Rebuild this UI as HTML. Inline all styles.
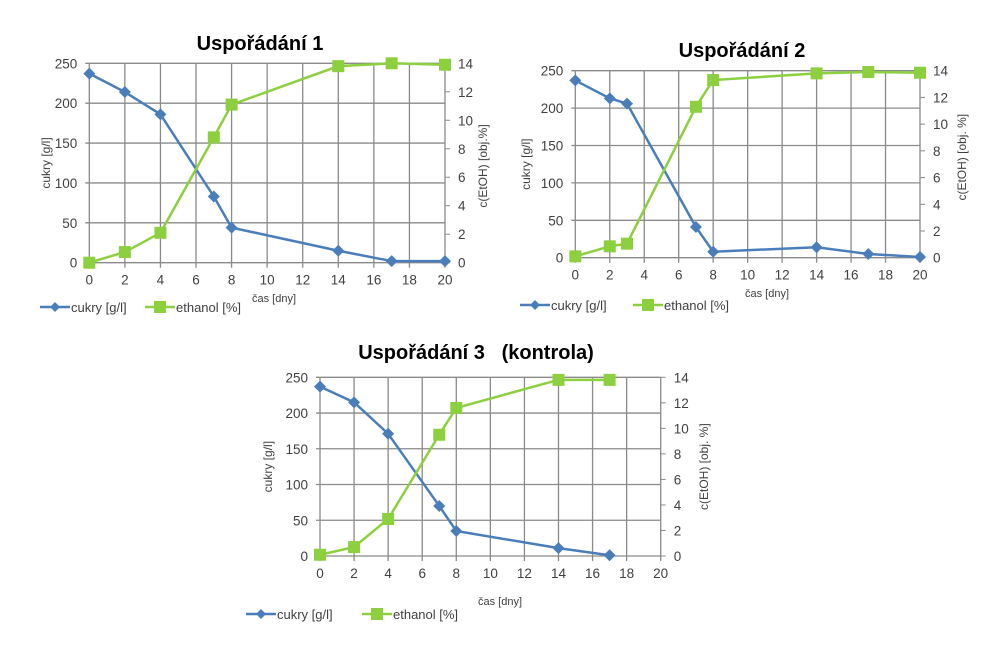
<!DOCTYPE html>
<html><head><meta charset="utf-8"><style>
body{margin:0;background:#fff;}
svg text{font-family:"Liberation Sans",sans-serif;fill:#404040;}
</style></head><body>
<svg id="s" width="997" height="660" viewBox="0 0 997 660" xmlns="http://www.w3.org/2000/svg"></svg>
<script>
const s=document.getElementById('s');let h='';
function chart(c){
 const X=v=>c.x0+(c.x1-c.x0)*v/20, Y=v=>c.y0+(c.y1-c.y0)*v/250, Y2=v=>c.y0+(c.y1-c.y0)*v/14;
 for(let i=0;i<=5;i++){const y=Y(i*50);h+=`<line x1="${c.x0-4}" x2="${c.x1}" y1="${y}" y2="${y}" stroke="#8a8a8a" stroke-width="1.3"/>`;
  h+=`<text x="${c.x0-12}" y="${y+5}" font-size="13.5" text-anchor="end">${i*50}</text>`;}
 for(let i=0;i<=10;i++){const x=X(i*2);h+=`<line x1="${x}" x2="${x}" y1="${c.y1}" y2="${c.y0+5}" stroke="#8a8a8a" stroke-width="1.3"/>`;
  h+=`<text x="${x}" y="${c.y0+22}" font-size="13.5" text-anchor="middle">${i*2}</text>`;}
 for(let i=0;i<=7;i++){const y=Y2(i*2);h+=`<line x1="${c.x1}" x2="${c.x1+5}" y1="${y}" y2="${y}" stroke="#8a8a8a"/>`;
  h+=`<text x="${c.x1+13}" y="${y+5}" font-size="13.5">${i*2}</text>`;}
 h+=`<text x="${c.tx}" y="${c.ty}" font-size="20" font-weight="bold" style="fill:#000" text-anchor="middle">${c.t}</text>`;
 h+=`<text transform="translate(${c.lx},${(c.y0+c.y1)/2}) rotate(-90)" font-size="12" text-anchor="middle">cukry [g/l]</text>`;
 h+=`<text transform="translate(${c.rx},${(c.y0+c.y1)/2+c.ro}) rotate(-90)" font-size="12" text-anchor="middle">${c.rt}</text>`;
 h+=`<text x="${c.cx}" y="${c.cy}" font-size="11" text-anchor="middle">čas [dny]</text>`;
 h+=`<polyline fill="none" stroke="#4a7ebb" stroke-width="2.5" points="${c.a.map(p=>X(p[0])+','+Y(p[1])).join(' ')}"/>`;
 c.a.forEach(p=>{const x=X(p[0]),y=Y(p[1]);h+=`<polygon points="${x},${y-6} ${x+6},${y} ${x},${y+6} ${x-6},${y}" fill="#4a7ebb"/>`;});
 h+=`<polyline fill="none" stroke="#8ccf3f" stroke-width="2.5" points="${c.b.map(p=>X(p[0])+','+Y2(p[1])).join(' ')}"/>`;
 c.b.forEach(p=>{const x=X(p[0]),y=Y2(p[1]);h+=`<rect x="${x-6}" y="${y-6}" width="12" height="12" fill="#8ccf3f"/>`;});
 const ly=c.ly;
 h+=`<line x1="${c.l1}" x2="${c.l1+30}" y1="${ly}" y2="${ly}" stroke="#4a7ebb" stroke-width="2.5"/><polygon points="${c.l1+15},${ly-5} ${c.l1+20},${ly} ${c.l1+15},${ly+5} ${c.l1+10},${ly}" fill="#4a7ebb"/>`;
 h+=`<text x="${c.l1+31}" y="${ly+5}" font-size="13">cukry [g/l]</text>`;
 h+=`<line x1="${c.l2}" x2="${c.l2+30}" y1="${ly}" y2="${ly}" stroke="#8ccf3f" stroke-width="2.5"/><rect x="${c.l2+9}" y="${ly-6}" width="12" height="12" fill="#8ccf3f"/>`;
 h+=`<text x="${c.l2+31}" y="${ly+5}" font-size="13">ethanol [%]</text>`;
}
chart({x0:89.3,x1:445,y0:262.7,y1:63.3,t:"Uspořádání 1",tx:260,ty:50,lx:50,rx:487,ro:3,rt:"c(EtOH) [obj.%]",cx:274,cy:302,ly:307,l1:40,l2:145,
 a:[[0,237],[2,214],[4,186],[7,83],[8,44],[14,15],[17,2],[20,2]],
 b:[[0,0],[2,0.75],[4,2.1],[7,8.8],[8,11.1],[14,13.8],[17,14],[20,13.9]]});
chart({x0:575.3,x1:920,y0:257.7,y1:70.7,t:"Uspořádání 2",tx:742,ty:57,lx:530,rx:966,ro:-7,rt:"c(EtOH) [obj. %]",cx:767,cy:297,ly:305,l1:520,l2:633,
 a:[[0,237],[2,213],[3,206],[7,41],[8,8],[14,14],[17,5],[20,1]],
 b:[[0,0.1],[2,0.85],[3,1.05],[7,11.3],[8,13.3],[14,13.8],[17,13.9],[20,13.85]]});
chart({x0:320,x1:660.7,y0:556,y1:377.3,t:"Uspořádání 3&#160;&#160;&#160;(kontrola)",tx:476,ty:359,lx:272,rx:708,ro:0,rt:"c(EtOH) [obj. %]",cx:500,cy:605,ly:614,l1:246,l2:362,
 a:[[0,237],[2,215],[4,171],[7,70],[8,35],[14,11],[17,1]],
 b:[[0,0.1],[2,0.7],[4,2.9],[7,9.5],[8,11.6],[14,13.8],[17,13.8]]});
s.innerHTML=h;
</script>
</body></html>
